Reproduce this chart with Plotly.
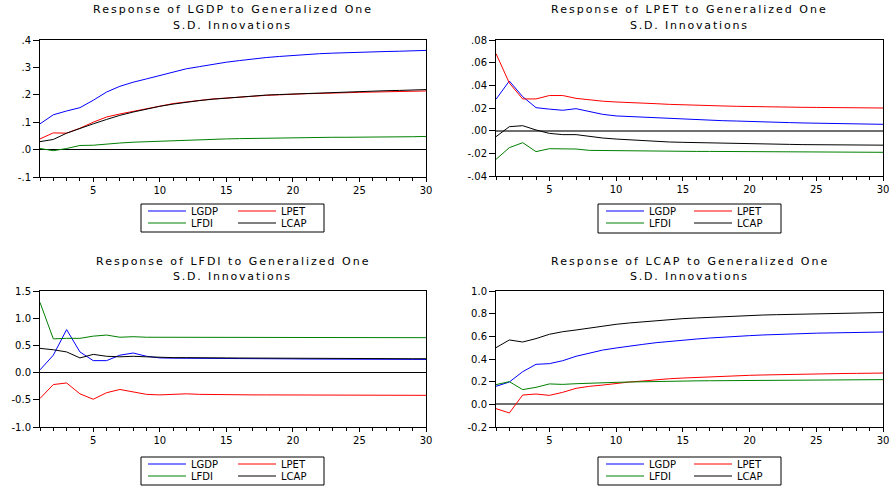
import plotly.graph_objects as go

W, H = 892, 487

periods = list(range(1, 31))
series_names = ["LGDP", "LPET", "LFDI", "LCAP"]
series_colors = ["#0000ff", "#ff0000", "#008000", "#000000"]

titles = ["Response of LGDP to Generalized One", "Response of LPET to Generalized One",
          "Response of LFDI to Generalized One", "Response of LCAP to Generalized One"]
subtitle = "S.D. Innovations"

# Response of LGDP
lgdp_gdp = [0.094,0.127,0.141,0.153,0.180,0.210,0.231,0.246,0.258,0.270,0.284,0.295,0.303,0.312,0.319,0.325,0.331,0.336,0.340,0.344,0.347,0.350,0.352,0.354,0.356,0.357,0.358,0.359,0.360,0.362]
lgdp_pet = [0.039,0.061,0.060,0.078,0.100,0.119,0.130,0.140,0.150,0.159,0.168,0.174,0.180,0.185,0.188,0.192,0.196,0.198,0.200,0.203,0.204,0.205,0.207,0.208,0.209,0.210,0.211,0.212,0.213,0.214]
lgdp_fdi = [0.004,-0.004,0.004,0.015,0.016,0.021,0.024,0.027,0.029,0.031,0.033,0.035,0.036,0.038,0.039,0.040,0.041,0.042,0.042,0.043,0.044,0.044,0.045,0.045,0.045,0.046,0.046,0.047,0.047,0.048]
lgdp_cap = [0.029,0.037,0.060,0.078,0.094,0.110,0.125,0.137,0.148,0.158,0.166,0.173,0.179,0.184,0.188,0.192,0.196,0.199,0.201,0.203,0.205,0.207,0.209,0.211,0.213,0.214,0.215,0.216,0.217,0.219]

# Response of LPET
lpet_gdp = [0.0277,0.0438,0.030,0.0203,0.019,0.018,0.0194,0.0168,0.0144,0.013,0.0124,0.0118,0.0112,0.0106,0.010,0.0096,0.0092,0.0088,0.0085,0.008,0.0077,0.0074,0.0071,0.0068,0.0066,0.0064,0.0062,0.006,0.0058,0.0056]
lpet_pet = [0.068,0.042,0.028,0.028,0.031,0.031,0.0285,0.027,0.026,0.0253,0.025,0.0244,0.0238,0.0232,0.023,0.0227,0.0221,0.0218,0.0215,0.0212,0.0210,0.0208,0.0207,0.0206,0.0205,0.0204,0.0203,0.0202,0.0201,0.0200]
lpet_fdi = [-0.0253,-0.015,-0.0106,-0.0185,-0.0159,-0.0162,-0.0162,-0.0174,-0.0176,-0.0177,-0.0178,-0.0179,-0.018,-0.0181,-0.0182,-0.0183,-0.0183,-0.0184,-0.0184,-0.0185,-0.0186,-0.0186,-0.0187,-0.0187,-0.0188,-0.0188,-0.0189,-0.019,-0.019,-0.0191]
lpet_cap = [-0.0053,0.0035,0.0044,0.0006,-0.0024,-0.0035,-0.0035,-0.0053,-0.0065,-0.0074,-0.0082,-0.0088,-0.0094,-0.0100,-0.0103,-0.0106,-0.0109,-0.0112,-0.0114,-0.0116,-0.0118,-0.0120,-0.0121,-0.0123,-0.0124,-0.0125,-0.0126,-0.0127,-0.0128,-0.0128]

# Response of LFDI
lfdi_gdp = [0.05,0.32,0.79,0.38,0.22,0.22,0.32,0.36,0.30,0.27,0.265,0.265,0.265,0.26,0.26,0.258,0.256,0.255,0.253,0.252,0.25,0.249,0.248,0.247,0.246,0.245,0.244,0.243,0.242,0.242]
lfdi_pet = [-0.475,-0.22,-0.19,-0.39,-0.49,-0.37,-0.31,-0.36,-0.40,-0.41,-0.40,-0.39,-0.40,-0.405,-0.41,-0.41,-0.41,-0.41,-0.41,-0.412,-0.413,-0.414,-0.415,-0.415,-0.416,-0.416,-0.417,-0.417,-0.418,-0.418]
lfdi_fdi = [1.29,0.62,0.63,0.63,0.67,0.69,0.65,0.66,0.65,0.65,0.65,0.65,0.648,0.647,0.646,0.646,0.645,0.645,0.645,0.644,0.644,0.644,0.643,0.643,0.643,0.643,0.642,0.642,0.642,0.642]
lfdi_cap = [0.445,0.42,0.38,0.27,0.335,0.30,0.29,0.30,0.29,0.28,0.275,0.275,0.277,0.274,0.27,0.268,0.266,0.265,0.263,0.262,0.261,0.26,0.259,0.258,0.258,0.257,0.256,0.256,0.255,0.255]

# Response of LCAP
lcap_gdp = [0.159,0.197,0.288,0.353,0.359,0.385,0.424,0.453,0.479,0.497,0.515,0.529,0.544,0.556,0.568,0.576,0.585,0.594,0.600,0.606,0.612,0.618,0.621,0.624,0.628,0.630,0.632,0.634,0.636,0.638]
lcap_pet = [-0.038,-0.076,0.082,0.091,0.079,0.106,0.141,0.159,0.170,0.185,0.197,0.206,0.218,0.226,0.232,0.238,0.244,0.250,0.253,0.256,0.259,0.262,0.265,0.267,0.269,0.270,0.272,0.273,0.274,0.276]
lcap_fdi = [0.174,0.200,0.130,0.150,0.180,0.176,0.182,0.188,0.191,0.194,0.197,0.200,0.202,0.204,0.206,0.207,0.208,0.209,0.210,0.212,0.213,0.213,0.214,0.214,0.215,0.216,0.216,0.217,0.217,0.218]
lcap_cap = [0.50,0.568,0.55,0.58,0.618,0.641,0.656,0.674,0.691,0.706,0.718,0.729,0.738,0.747,0.756,0.762,0.768,0.774,0.779,0.785,0.788,0.791,0.794,0.797,0.800,0.802,0.803,0.805,0.806,0.810]

panel_series = [
    [lgdp_gdp, lgdp_pet, lgdp_fdi, lgdp_cap],
    [lpet_gdp, lpet_pet, lpet_fdi, lpet_cap],
    [lfdi_gdp, lfdi_pet, lfdi_fdi, lfdi_cap],
    [lcap_gdp, lcap_pet, lcap_fdi, lcap_cap],
]

y_ranges = [[-0.1, 0.4], [-0.04, 0.08], [-1.0, 1.5], [-0.2, 1.0]]
y_tickvals = [
    [-0.1, 0.0, 0.1, 0.2, 0.3, 0.4],
    [-0.04, -0.02, 0.0, 0.02, 0.04, 0.06, 0.08],
    [-1.0, -0.5, 0.0, 0.5, 1.0, 1.5],
    [-0.2, 0.0, 0.2, 0.4, 0.6, 0.8, 1.0],
]
y_ticktext = [
    ["-.1", ".0", ".1", ".2", ".3", ".4"],
    ["-.04", "-.02", ".00", ".02", ".04", ".06", ".08"],
    ["-1.0", "-0.5", "0.0", "0.5", "1.0", "1.5"],
    ["-0.2", "0.0", "0.2", "0.4", "0.6", "0.8", "1.0"],
]
x_tickvals = [5, 10, 15, 20, 25, 30]
x_ticktext = ["5", "10", "15", "20", "25", "30"]

# layout geometry in pixels
plot_x = [(40, 426), (496, 883), (40, 426), (496, 883)]
plot_y = [(40, 177), (40, 176), (291, 427), (291, 427)]
zero_style = [("#000000", 1), ("#707070", 1.6), ("#000000", 1), ("#707070", 2)]
title_split_y = [17.5, 17.5, 269, 269]
legend_start_x = 143
legend_rows_y = [(211, 223), (464, 476)]
# per-entry widths (left col1, left col2 -> right panel, right col1, right col2)
legend_entry_w = [[37, 315], [35, 40]]
legend_box = [(141, 204, 324, 232), (598, 204, 781, 233), (141, 457, 324, 485), (598, 457, 781, 485)]

def px(x):
    return x / W

def py(y):
    return 1 - y / H

FONT = "DejaVu Sans"

fig = go.Figure()
layout = dict(
    width=W, height=H, margin=dict(l=0, r=0, t=0, b=0, autoexpand=False),
    paper_bgcolor="white", plot_bgcolor="white",
    showlegend=True, annotations=[], shapes=[],
    font=dict(family=FONT, size=10, color="black"),
)

legend_ids = ["legend", "legend2", "legend3", "legend4"]

for p in range(4):
    sfx = "" if p == 0 else str(p + 1)
    xa, ya = "x" + sfx, "y" + sfx
    prow = p // 2   # 0 top, 1 bottom
    pcol = p % 2    # 0 left, 1 right
    for s in range(4):
        row = 0 if s < 2 else 1
        col = s % 2
        fig.add_trace(go.Scatter(
            x=periods, y=panel_series[p][s], mode="lines", name=series_names[s],
            line=dict(color=series_colors[s], width=1),
            xaxis=xa, yaxis=ya, legend=legend_ids[2 * prow + row],
            legendwidth=legend_entry_w[pcol][col], hoverinfo="skip",
        ))
    zc, zw = zero_style[p]
    layout["xaxis" + sfx] = dict(
        domain=[px(plot_x[p][0]), px(plot_x[p][1])], anchor=ya,
        range=[1, 30], tickmode="array", tickvals=x_tickvals, ticktext=x_ticktext,
        ticks="outside", ticklen=4, tickcolor="black", tickwidth=1,
        minor=dict(ticks="outside", ticklen=3, dtick=1, tick0=0, tickcolor="black", showgrid=False),
        showline=True, linecolor="black", linewidth=1, mirror=True,
        showgrid=False, zeroline=False, tickfont=dict(family=FONT, size=10, color="black"),
        fixedrange=True,
    )
    layout["yaxis" + sfx] = dict(
        domain=[py(plot_y[p][1]), py(plot_y[p][0])], anchor=xa,
        range=y_ranges[p], tickmode="array", tickvals=y_tickvals[p], ticktext=y_ticktext[p],
        ticks="outside", ticklen=6, tickcolor="black", tickwidth=1,
        showline=True, linecolor="black", linewidth=1, mirror=True,
        showgrid=False, zeroline=True, zerolinecolor=zc, zerolinewidth=zw,
        tickfont=dict(family=FONT, size=10, color="black"), fixedrange=True,
    )
    cx = (plot_x[p][0] + plot_x[p][1]) / 2
    layout["annotations"].append(dict(
        text='<span style="letter-spacing:2px">' + titles[p] + '</span>',
        x=px(cx), y=py(title_split_y[p]), xref="paper", yref="paper",
        xanchor="center", yanchor="bottom", showarrow=False, borderpad=0,
        font=dict(family=FONT, size=11, color="black")))
    layout["annotations"].append(dict(
        text='<span style="letter-spacing:1.8px">' + subtitle + '</span>',
        x=px(cx), y=py(title_split_y[p]), xref="paper", yref="paper",
        xanchor="center", yanchor="top", showarrow=False, borderpad=0,
        font=dict(family=FONT, size=11, color="black")))
    bx0, by0, bx1, by1 = legend_box[p]
    layout["shapes"].append(dict(
        type="rect", xref="paper", yref="paper", x0=px(bx0), x1=px(bx1), y0=py(by1), y1=py(by0),
        line=dict(color="black", width=1), fillcolor="rgba(0,0,0,0)", layer="below"))

for prow in range(2):
    for row in range(2):
        layout[legend_ids[2 * prow + row]] = dict(
            orientation="h", x=px(legend_start_x), xanchor="left",
            y=py(legend_rows_y[prow][row]), yanchor="middle",
            bgcolor="rgba(0,0,0,0)", borderwidth=0,
            entrywidthmode="pixels", itemwidth=38,
            font=dict(family=FONT, size=10, color="black"),
            itemclick=False, itemdoubleclick=False,
        )

fig.update_layout(**layout)
fig.write_html("out.html")
